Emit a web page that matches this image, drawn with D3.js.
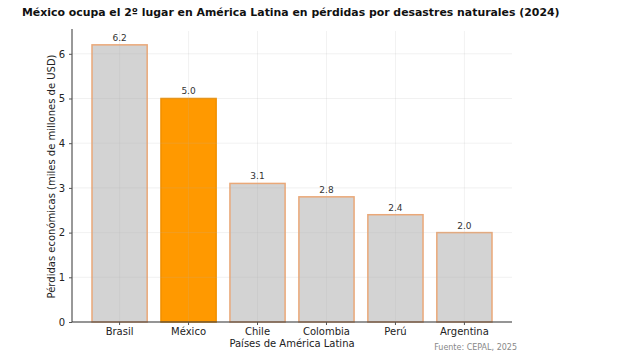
<!DOCTYPE html>
<html>
<head>
<meta charset="utf-8">
<script src="https://cdn.jsdelivr.net/npm/d3@7"></script>
<style>
  body { margin: 0; background: #fff; }
  text { font-family: "DejaVu Sans", sans-serif; }
</style>
</head>
<body>
<div id="chart"></div>
<script>
(function(){
  'use strict';

  var paises = ['Brasil', 'México', 'Chile', 'Colombia', 'Perú', 'Argentina'];
  var perdidas = [6.2, 5.0, 3.1, 2.8, 2.4, 2.0];
  var yTicks = [0, 1, 2, 3, 4, 5, 6];
  var destacado = 'México';

  var w = 620, h = 360,
      left = 72, right = 512, top = 31, bottom = 322;

  var svg = d3.select('#chart').append('svg')
    .attr('width', w)
    .attr('height', h);

  var x = d3.scaleBand()
    .domain(paises)
    .range([left, right])
    .paddingInner(0.2)
    .paddingOuter(0.29);

  var y = d3.scaleLinear()
    .domain([0, 6.51])
    .range([bottom, top]);

  // bars
  svg.selectAll('.bar')
    .data(paises)
    .enter()
    .append('rect')
    .attr('class', 'bar')
    .attr('x', function(d){ return x(d); })
    .attr('y', function(d, i){ return y(perdidas[i]); })
    .attr('width', x.bandwidth())
    .attr('height', function(d, i){ return y(0) - y(perdidas[i]); })
    .style('fill', function(d){ return d === destacado ? '#ff9900' : '#d3d3d3'; })
    .style('stroke', function(d){ return d === destacado ? '#f09000' : '#eaa878'; })
    .style('stroke-width', 1.5);

  // grid (drawn faintly over bars)
  svg.append('g')
    .selectAll('line')
    .data(yTicks)
    .enter()
    .append('line')
    .attr('x1', left).attr('x2', right)
    .attr('y1', function(d){ return y(d); })
    .attr('y2', function(d){ return y(d); })
    .style('stroke', '#b0b0b0')
    .style('stroke-opacity', 0.18);

  svg.append('g')
    .selectAll('line')
    .data(paises)
    .enter()
    .append('line')
    .attr('x1', function(d){ return x(d) + x.bandwidth() / 2; })
    .attr('x2', function(d){ return x(d) + x.bandwidth() / 2; })
    .attr('y1', top).attr('y2', bottom)
    .style('stroke', '#b0b0b0')
    .style('stroke-opacity', 0.18);

  // value labels
  svg.selectAll('.val')
    .data(paises)
    .enter()
    .append('text')
    .attr('x', function(d){ return x(d) + x.bandwidth() / 2; })
    .attr('y', function(d, i){ return y(perdidas[i]) - 4; })
    .attr('text-anchor', 'middle')
    .style('font-size', '9px')
    .style('fill', '#333')
    .text(function(d, i){ return perdidas[i].toFixed(1); });

  // axes
  var xAxis = d3.axisBottom(x).tickSize(3).tickPadding(3),
      yAxis = d3.axisLeft(y).tickValues(yTicks).tickFormat(d3.format('d')).tickSize(3).tickPadding(4);

  var gx = svg.append('g')
    .attr('transform', 'translate(0,' + bottom + ')')
    .call(xAxis);
  gx.select('.domain').attr('d', 'M' + left + ',0H' + right).style('stroke', '#333');
  gx.selectAll('text').style('font-size', '10px').style('fill', '#222').attr('font-family', null);
  gx.selectAll('.tick line').style('stroke', '#555');

  var gy = svg.append('g')
    .attr('transform', 'translate(' + left + ',0)')
    .call(yAxis);
  gy.select('.domain').attr('d', 'M0,' + bottom + 'V' + (top - 2)).style('stroke', '#333');
  gy.selectAll('text').style('font-size', '10px').style('fill', '#222').attr('font-family', null);
  gy.selectAll('.tick line').style('stroke', '#555');

  // titles
  svg.append('text')
    .attr('x', 22).attr('y', 16)
    .style('font-size', '10.9px')
    .style('font-weight', 'bold')
    .style('fill', '#111')
    .text('México ocupa el 2º lugar en América Latina en pérdidas por desastres naturales (2024)');

  svg.append('text')
    .attr('transform', 'translate(55,' + ((top + bottom) / 2) + ') rotate(-90)')
    .attr('text-anchor', 'middle')
    .style('font-size', '10px')
    .style('fill', '#222')
    .text('Pérdidas económicas (miles de millones de USD)');

  svg.append('text')
    .attr('x', (left + right) / 2).attr('y', 347)
    .attr('text-anchor', 'middle')
    .style('font-size', '10px')
    .style('fill', '#222')
    .text('Países de América Latina');

  svg.append('text')
    .attr('x', 517).attr('y', 350)
    .attr('text-anchor', 'end')
    .style('font-size', '8px')
    .style('fill', '#888')
    .text('Fuente: CEPAL, 2025');

}());
</script>
</body>
</html>
